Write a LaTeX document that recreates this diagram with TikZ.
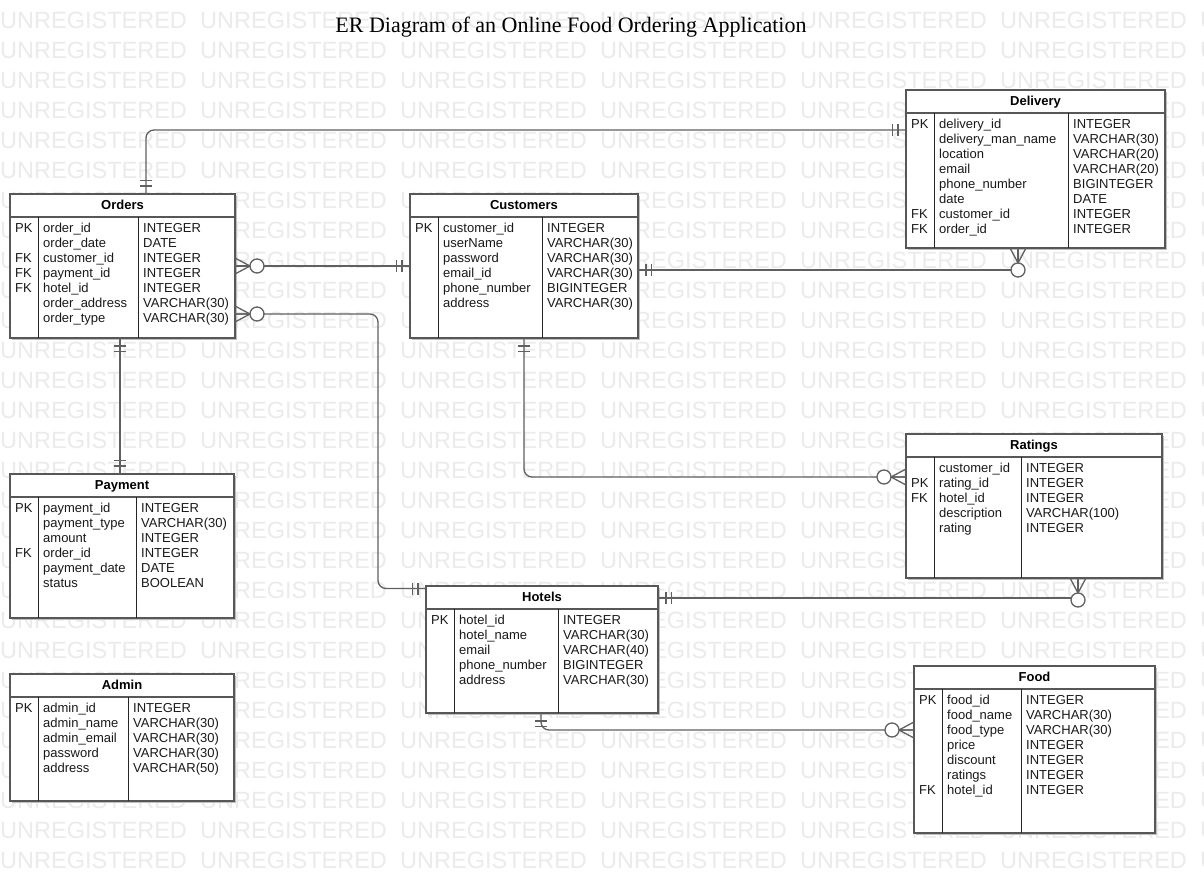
\documentclass[tikz,border=0pt]{standalone}
\usepackage{fontspec}
\setmainfont{Liberation Sans}
\newfontfamily\titlefont{Liberation Serif}
\usetikzlibrary{calc,shadows}
\definecolor{wmark}{HTML}{EBEBEB}
\definecolor{bord}{HTML}{575757}
\definecolor{lnk}{HTML}{606060}

\newcommand{\ertab}[8]{%
  \node[tbl, minimum width=#4pt, minimum height=#5pt, anchor=north west] (#1) at (#2,#3) {};
  \node[hdr] (#1-title) at ($(#1.north)+(0,15.6)$) {#8};
  \draw[tline] ($(#1.north west)+(0,23)$) -- ($(#1.north east)+(0,23)$);
  \draw[divl] ($(#1.north west)+(#6,23)$) -- ($(#1.south west)+(#6,0)$);
  \draw[divl] ($(#1.north west)+(#7,23)$) -- ($(#1.south west)+(#7,0)$);
}
\newcommand{\errows}[3]{%
  \foreach \cn/\ct [count=\ci] in {#3} {
    \node[cell] (#1-n\ci) at ($(#1.north west)+(33,38.3+15*\ci-15)$) {\cn};
    \node[cell] (#1-t\ci) at ($(#1.north west)+(#2+5,38.3+15*\ci-15)$) {\ct};
  }
}
\newcommand{\erkey}[3]{%
  \node[cell] (#1-key#2) at ($(#1.north west)+(5,38.3+15*#2-15)$) {#3};
}

\begin{document}
\begin{tikzpicture}[x=1pt,y=-1pt,
  conn/.style={draw=lnk, line width=1.3pt},
  tbl/.style={draw=bord, line width=1.3pt, fill=white, inner sep=0pt, outer sep=0pt,
    drop shadow={shadow xshift=2pt, shadow yshift=-2pt, fill=black!25, opacity=1}},
  tline/.style={draw=bord, line width=1.3pt},
  divl/.style={draw=black!85, line width=0.9pt},
  hdr/.style={anchor=base, inner sep=0pt, font=\bfseries\fontsize{13}{15}\selectfont},
  cell/.style={anchor=base west, inner sep=0pt, font=\fontsize{13}{15}\selectfont, text=black!90},
  wm/.style={anchor=base west, inner sep=0pt, font=\fontsize{23.5}{26}\selectfont, text=wmark},
  mone/.pic={\draw[conn] (8,-6) -- (8,6) (13.5,-6) -- (13.5,6);},
  zmany/.pic={\draw[conn] (0,-8) -- (15,0) -- (0,8) (0,0) -- (15,0);
              \draw[conn, fill=white] (22,0) circle[radius=7pt];}
]
\useasboundingbox[fill=white] (0,0) rectangle (1204,874);

% watermark
\foreach \r in {0,...,28} {
  \foreach \c in {0,...,6} {
    \node[wm] (wm-\r-\c) at (200*\c, 20+30*\r+8.4) {UNREGISTERED};
  }
}

% title
\node[anchor=base, inner sep=0pt, font=\titlefont\fontsize{22}{25}\selectfont] (title) at (571,32.3)
  {ER Diagram of an Online Food Ordering Application};

% tables
\ertab{orders}{10}{194}{225}{144}{28}{128}{Orders}
\errows{orders}{128}{order\_id/INTEGER, order\_date/DATE, customer\_id/INTEGER, payment\_id/INTEGER, hotel\_id/INTEGER, order\_address/VARCHAR(30), order\_type/VARCHAR(30)}
\erkey{orders}{1}{PK}\erkey{orders}{3}{FK}\erkey{orders}{4}{FK}\erkey{orders}{5}{FK}

\ertab{customers}{410}{194}{228}{144}{28}{132}{Customers}
\errows{customers}{132}{customer\_id/INTEGER, userName/VARCHAR(30), password/VARCHAR(30), email\_id/VARCHAR(30), phone\_number/BIGINTEGER, address/VARCHAR(30)}
\erkey{customers}{1}{PK}

\ertab{delivery}{906}{90}{259}{158}{28}{162}{Delivery}
\errows{delivery}{162}{delivery\_id/INTEGER, delivery\_man\_name/VARCHAR(30), location/VARCHAR(20), email/VARCHAR(20), phone\_number/BIGINTEGER, date/DATE, customer\_id/INTEGER, order\_id/INTEGER}
\erkey{delivery}{1}{PK}\erkey{delivery}{7}{FK}\erkey{delivery}{8}{FK}

\ertab{ratings}{906}{434}{256}{144}{28}{115}{Ratings}
\errows{ratings}{115}{customer\_id/INTEGER, rating\_id/INTEGER, hotel\_id/INTEGER, description/VARCHAR(100), rating/INTEGER}
\erkey{ratings}{2}{PK}\erkey{ratings}{3}{FK}

\ertab{payment}{10}{474}{224}{144}{28}{126}{Payment}
\errows{payment}{126}{payment\_id/INTEGER, payment\_type/VARCHAR(30), amount/INTEGER, order\_id/INTEGER, payment\_date/DATE, status/BOOLEAN}
\erkey{payment}{1}{PK}\erkey{payment}{4}{FK}

\ertab{admin}{10}{674}{224}{127}{28}{118}{Admin}
\errows{admin}{118}{admin\_id/INTEGER, admin\_name/VARCHAR(30), admin\_email/VARCHAR(30), password/VARCHAR(30), address/VARCHAR(50)}
\erkey{admin}{1}{PK}

\ertab{hotels}{426}{586}{232}{127}{28}{132}{Hotels}
\errows{hotels}{132}{hotel\_id/INTEGER, hotel\_name/VARCHAR(30), email/VARCHAR(40), phone\_number/BIGINTEGER, address/VARCHAR(30)}
\erkey{hotels}{1}{PK}

\ertab{food}{914}{666}{241}{167}{28}{107}{Food}
\errows{food}{107}{food\_id/INTEGER, food\_name/VARCHAR(30), food\_type/VARCHAR(30), price/INTEGER, discount/INTEGER, ratings/INTEGER, hotel\_id/INTEGER}
\erkey{food}{1}{PK}\erkey{food}{7}{FK}

% connectors
% Orders - Delivery
\coordinate (od1) at ($(orders.north west)+(136,0)$);
\coordinate (od2) at ($(delivery.north west)+(0,40)$);
\draw[conn, rounded corners=8pt] (od1) |- (od2);
\pic[rotate=90] at (od1) {mone};
\pic[rotate=180] at (od2) {mone};

% Orders - Customers
\coordinate (oc1) at ($(orders.north east)+(0,72)$);
\coordinate (oc2) at ($(customers.north west)+(0,72)$);
\draw[conn] (oc1) -- (oc2);
\pic at (oc1) {zmany};
\pic[rotate=180] at (oc2) {mone};

% Orders - Hotels
\coordinate (oh1) at ($(orders.north east)+(0,120)$);
\coordinate (oh2) at ($(hotels.north west)+(0,2.5)$);
\coordinate (ohm) at ($(hotels.north west)+(-48,2.5)$);
\draw[conn, rounded corners=8pt] (oh1) -| (ohm) -- (oh2);
\pic at (oh1) {zmany};
\pic[rotate=180] at (oh2) {mone};

% Customers - Delivery
\coordinate (cd1) at ($(customers.north east)+(0,76)$);
\coordinate (cd2) at ($(delivery.south west)+(112,0)$);
\draw[conn] (cd1) -| (cd2);
\pic at (cd1) {mone};
\pic[rotate=-90] at (cd2) {zmany};

% Orders - Payment
\coordinate (op1) at ($(orders.south west)+(110,0)$);
\coordinate (op2) at ($(payment.north west)+(110,0)$);
\draw[conn] (op1) -- (op2);
\pic[rotate=-90] at (op1) {mone};
\pic[rotate=90] at (op2) {mone};

% Customers - Ratings
\coordinate (cr1) at ($(customers.south west)+(114,0)$);
\coordinate (cr2) at ($(ratings.north west)+(0,43)$);
\draw[conn, rounded corners=8pt] (cr1) |- (cr2);
\pic[rotate=-90] at (cr1) {mone};
\pic[rotate=180] at (cr2) {zmany};

% Hotels - Ratings
\coordinate (hr1) at ($(hotels.north east)+(0,12)$);
\coordinate (hr2) at ($(ratings.south west)+(172,0)$);
\draw[conn] (hr1) -| (hr2);
\pic at (hr1) {mone};
\pic[rotate=-90] at (hr2) {zmany};

% Hotels - Food
\coordinate (hf1) at ($(hotels.south west)+(115,0)$);
\coordinate (hf2) at ($(food.north west)+(0,64)$);
\draw[conn, rounded corners=8pt] (hf1) |- (hf2);
\pic[rotate=-90] at (hf1) {mone};
\pic[rotate=180] at (hf2) {zmany};
\end{tikzpicture}
\end{document}
